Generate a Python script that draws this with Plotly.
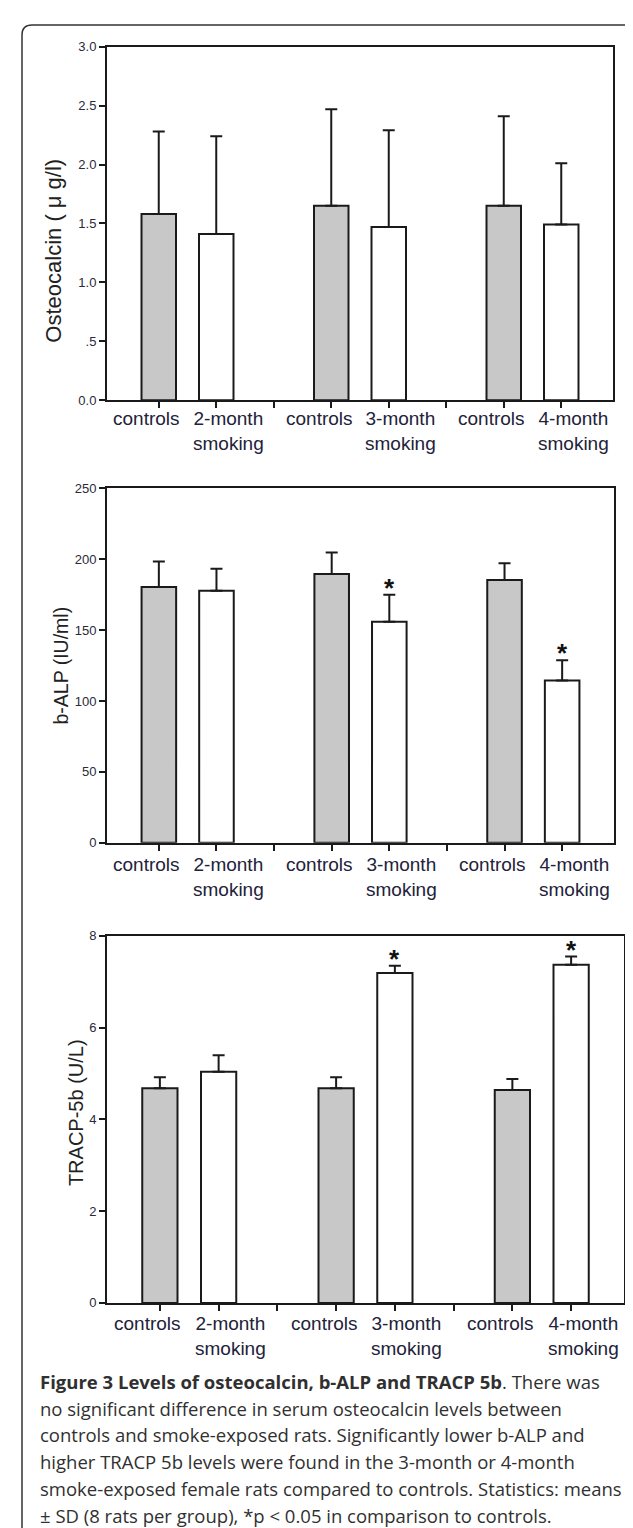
import plotly.graph_objects as go

W, H = 633, 1528

# ---------------- data ----------------
groups = ["2-month", "3-month", "4-month"]
ctrl_label = "controls"
smk_labels = ["2-month<br>smoking", "3-month<br>smoking", "4-month<br>smoking"]

osteo_ctrl = [1.58, 1.65, 1.65]
osteo_ctrl_sd = [0.70, 0.82, 0.76]
osteo_smk = [1.41, 1.47, 1.49]
osteo_smk_sd = [0.83, 0.82, 0.52]
osteo_sig = [False, False, False]

balp_ctrl = [180.4, 189.5, 185.3]
balp_ctrl_sd = [17.9, 15.3, 11.9]
balp_smk = [177.8, 155.9, 114.5]
balp_smk_sd = [15.4, 19.1, 14.2]
balp_sig = [False, True, True]

tracp_ctrl = [4.68, 4.68, 4.64]
tracp_ctrl_sd = [0.24, 0.24, 0.24]
tracp_smk = [5.04, 7.19, 7.37]
tracp_smk_sd = [0.36, 0.16, 0.18]
tracp_sig = [False, True, True]

osteo_ticks = [0, 0.5, 1.0, 1.5, 2.0, 2.5, 3.0]
osteo_ticktext = ["0.0", ".5", "1.0", "1.5", "2.0", "2.5", "3.0"]
balp_ticks = [0, 50, 100, 150, 200, 250]
tracp_ticks = [0, 2, 4, 6, 8]

caption_lines = [
    "<b>Figure 3 Levels of osteocalcin, b-ALP and TRACP 5b</b>. There was",
    "no significant difference in serum osteocalcin levels between",
    "controls and smoke-exposed rats. Significantly lower b-ALP and",
    "higher TRACP 5b levels were found in the 3-month or 4-month",
    "smoke-exposed female rats compared to controls. Statistics: means",
    "\u00b1 SD (8 rats per group), *p < 0.05 in comparison to controls.",
]

# ---------------- layout helpers ----------------
def px(x):
    return x / W

def py(y):
    return 1 - y / H

ctrl_x = [3 * i + 1 for i in range(len(groups))]
smk_x = [3 * i + 2 for i in range(len(groups))]
tick_x = list(range(1, 9))

panels = [
    dict(ctrl=osteo_ctrl, csd=osteo_ctrl_sd, smk=osteo_smk, ssd=osteo_smk_sd, sig=osteo_sig,
         xdom=(99, 605), ydom=(32, 389), yr=[0, 3.0], tv=osteo_ticks, tt=osteo_ticktext,
         title="Osteocalcin ( \u03bc g/l)", tpos=(46, 238), tsize=22, lshift=-6),
    dict(ctrl=balp_ctrl, csd=balp_ctrl_sd, smk=balp_smk, ssd=balp_smk_sd, sig=balp_sig,
         xdom=(99, 606), ydom=(478, 836), yr=[0, 250], tv=balp_ticks, tt=[str(v) for v in balp_ticks],
         title="b-ALP (IU/ml)", tpos=(53, 657), tsize=19.5, lshift=-9),
    dict(ctrl=tracp_ctrl, csd=tracp_ctrl_sd, smk=tracp_smk, ssd=tracp_smk_sd, sig=tracp_sig,
         xdom=(99, 616), ydom=(930, 1300.7), yr=[0, 8], tv=tracp_ticks, tt=[str(v) for v in tracp_ticks],
         title="TRACP-5b (U/L)", tpos=(68, 1109), tsize=20, lshift=-8),
]

fig = go.Figure()
annotations = []
LINE = "#1a1a1a"
FONT = "Arial, Liberation Sans, sans-serif"

for i, p in enumerate(panels):
    sfx = "" if i == 0 else str(i + 1)
    xa, ya = "x" + sfx, "y" + sfx
    err_kw = dict(type="data", symmetric=False, arrayminus=[0] * 3, color=LINE, thickness=2, width=6)
    fig.add_trace(go.Bar(x=ctrl_x, y=p["ctrl"], width=0.6, xaxis=xa, yaxis=ya,
                         marker=dict(color="#c8c8c8", line=dict(color=LINE, width=2)),
                         error_y=dict(array=p["csd"], **err_kw), showlegend=False))
    fig.add_trace(go.Bar(x=smk_x, y=p["smk"], width=0.6, xaxis=xa, yaxis=ya,
                         marker=dict(color="white", line=dict(color=LINE, width=2)),
                         error_y=dict(array=p["ssd"], **err_kw), showlegend=False))
    axis_common = dict(showline=True, linecolor=LINE, linewidth=2, mirror=True, ticks="outside",
                       ticklen=6, tickwidth=1.5, tickcolor=LINE, showgrid=False, zeroline=False)
    fig.update_layout(**{
        ("xaxis" + sfx): dict(domain=[px(p["xdom"][0]), px(p["xdom"][1])], range=[0.1, 8.9],
                              tickvals=tick_x, showticklabels=False, anchor=ya, **axis_common),
        ("yaxis" + sfx): dict(domain=[py(p["ydom"][1]), py(p["ydom"][0])], range=p["yr"],
                              tickvals=p["tv"], ticktext=p["tt"], anchor=xa,
                              tickfont=dict(family=FONT, size=13, color="#2a2a3a"), **axis_common),
    })
    # category labels
    for gi in range(len(groups)):
        annotations.append(dict(x=ctrl_x[gi], y=0, xref=xa, yref=ya, text=ctrl_label, showarrow=False,
                                xanchor="center", yanchor="top", xshift=-12, yshift=p["lshift"],
                                font=dict(family=FONT, size=19, color="#22223a")))
        annotations.append(dict(x=smk_x[gi], y=0, xref=xa, yref=ya, text=smk_labels[gi], showarrow=False,
                                xanchor="center", yanchor="top", xshift=12, yshift=p["lshift"],
                                font=dict(family=FONT, size=19, color="#22223a")))
        if p["sig"][gi]:
            annotations.append(dict(x=smk_x[gi], y=p["smk"][gi] + p["ssd"][gi], xref=xa, yref=ya,
                                    text="<b>*</b>", showarrow=False, xanchor="center", yanchor="middle",
                                    yshift=7, font=dict(family=FONT, size=26, color="#111")))
    # y title
    annotations.append(dict(x=px(p["tpos"][0]), y=py(p["tpos"][1]), xref="paper", yref="paper",
                            text=p["title"], textangle=-90, showarrow=False, xanchor="center",
                            yanchor="middle", font=dict(family=FONT, size=p["tsize"], color="#222")))

# caption
cap_y = [1380, 1407, 1434, 1461, 1488, 1515]
for line, yy in zip(caption_lines, cap_y):
    annotations.append(dict(x=px(30), y=py(yy), xref="paper", yref="paper", text=line, showarrow=False,
                            xanchor="left", yanchor="middle",
                            font=dict(family="Open Sans, sans-serif", size=18.5, color="#303030")))

# rounded frame
def P(x, y):
    return f"{px(x):.5f},{py(y):.5f}"

frame = (f"M {P(14, 1528)} L {P(14, 20)} Q {P(14, 10)} {P(24, 10)} "
         f"L {P(624, 10)} Q {P(633, 10)} {P(633, 19)}")

fig.update_layout(
    width=W, height=H, margin=dict(l=0, r=0, t=0, b=0),
    paper_bgcolor="white", plot_bgcolor="white", barmode="overlay", showlegend=False,
    annotations=annotations,
    shapes=[dict(type="path", path=frame, xref="paper", yref="paper",
                 line=dict(color="#333", width=1.5))],
)

fig.write_html("out.html")
